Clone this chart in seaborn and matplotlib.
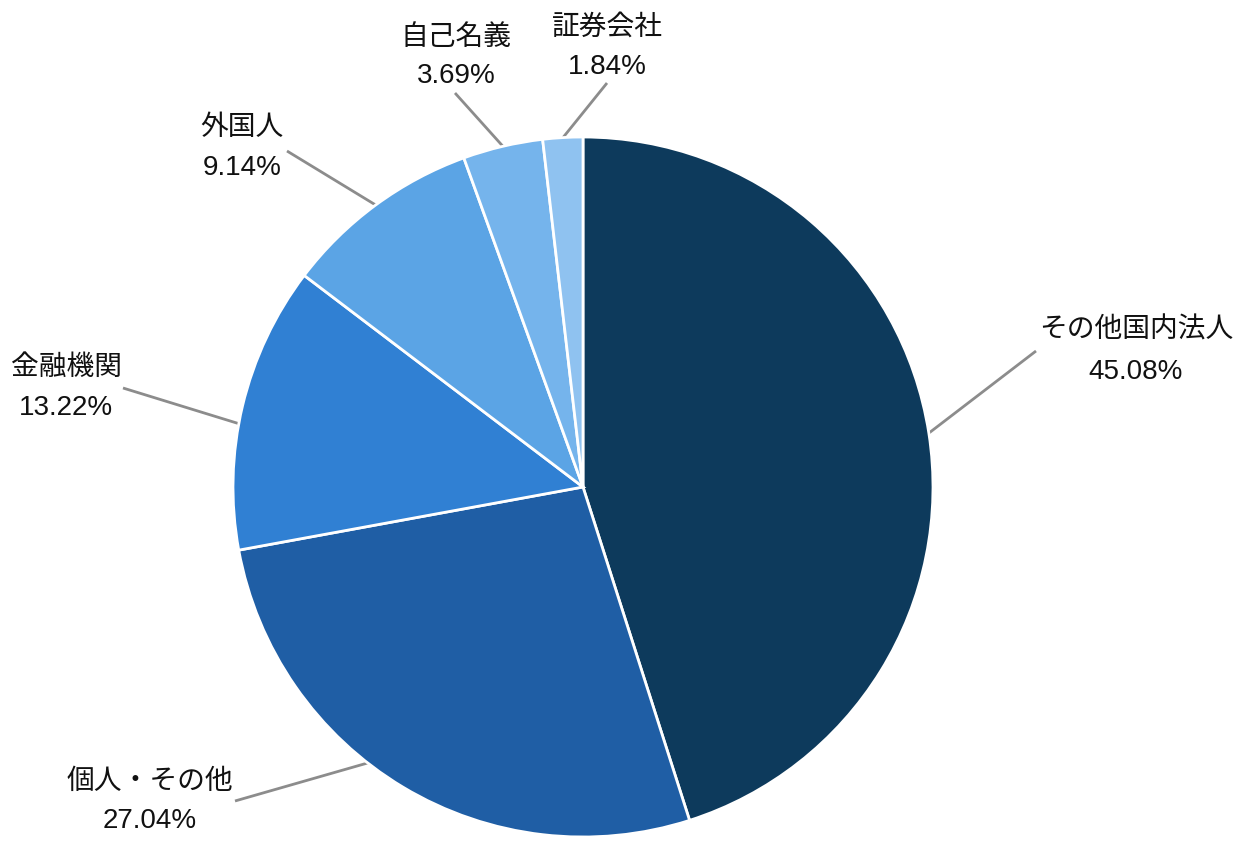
import numpy as np
import matplotlib
matplotlib.use("Agg")
import matplotlib.pyplot as plt
import seaborn as sns

# data
categories = ["その他国内法人", "個人・その他", "金融機関", "外国人", "自己名義", "証券会社"]
shares = [45.08, 27.04, 13.22, 9.14, 3.69, 1.84]
colors = ["#0d3a5c", "#1f5ea5", "#3080d3", "#5ba4e5", "#75b4ec", "#8fc2f0"]

sns.set_theme(style="white")
plt.rcParams["font.family"] = ["Liberation Sans", "Noto Sans CJK JP", "DejaVu Sans"]

W, H = 1245, 860
CX, CY, R = 583, 487, 350


def to_data(x, y):
    # pixel -> axes data (pie radius 1 at centre)
    return (x - CX) / R, (CY - y) / R


fig = plt.figure(figsize=(W / 100, H / 100), dpi=100)
ax = fig.add_axes([0, 0, 1, 1])

wedges, _ = ax.pie(shares, colors=colors, startangle=90, counterclock=False,
                   radius=1, center=(0, 0),
                   wedgeprops=dict(edgecolor="white", linewidth=2.0))

# label layout: small nudge of leader start (deg, clockwise), leader outer end, text centre
nudge = [0, 7, -3, 0, 0, 0]
line_end = [(1036, 351), (235, 801), (123, 388), (287, 151), (455, 93), (607, 83)]
name_pos = [(1136, 330), (150, 782), (66, 368), (242, 128), (456, 38), (607, 28)]
pct_pos = [(1136, 372), (150, 821), (66, 408), (242, 168), (456, 76), (607, 67)]

cum = np.cumsum([0] + shares[:-1])
for i, (cat, val) in enumerate(zip(categories, shares)):
    mid = (cum[i] + val / 2) / 100 * 360 + nudge[i]
    sx, sy = np.sin(np.radians(mid)), np.cos(np.radians(mid))
    ex, ey = to_data(*line_end[i])
    ax.plot([sx, ex], [sy, ey], color="#8c8c8c", lw=2.0, solid_capstyle="butt", zorder=0)
    nx, ny = to_data(*name_pos[i])
    px, py = to_data(*pct_pos[i])
    ax.text(nx, ny, cat, ha="center", va="center", fontsize=20, color="#111111")
    ax.text(px, py, f"{val:.2f}%", ha="center", va="center", fontsize=20, color="#111111")

ax.set_xlim(-CX / R, (W - CX) / R)
ax.set_ylim(-(H - CY) / R, CY / R)
ax.set_aspect("equal")
ax.axis("off")

fig.savefig("out.png", dpi=100)
